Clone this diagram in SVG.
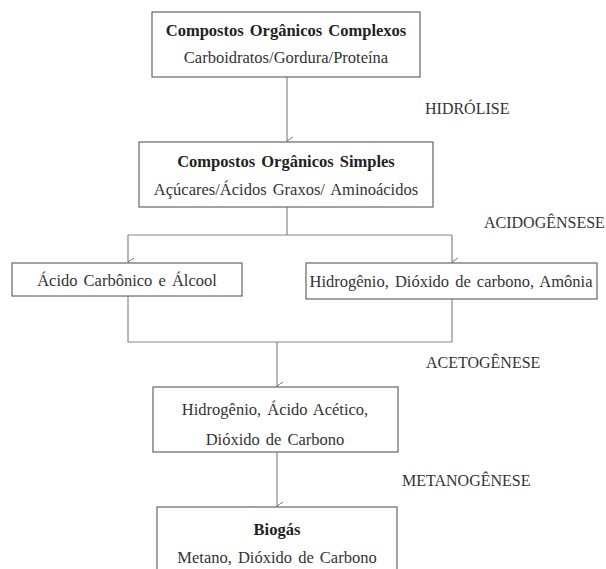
<svg xmlns="http://www.w3.org/2000/svg" width="606" height="569" viewBox="0 0 606 569">
  <defs>
    <marker id="arrow" markerWidth="10" markerHeight="10" refX="5" refY="8" orient="auto-start-reverse" markerUnits="userSpaceOnUse" viewBox="0 0 10 10">
      <path d="M1,2 L5,8 L9,2" fill="none" stroke="#777" stroke-width="1"/>
    </marker>
  </defs>
  <style>
    .box { fill: #fff; stroke: #666; stroke-width: 1.2; }
    .link { fill: none; stroke: #888; stroke-width: 1.2; }
    .title { font-family: "Liberation Serif", "Times New Roman", serif; font-size: 16.5px; font-weight: bold; fill: #222; text-anchor: middle; word-spacing: 2px; }
    .body { font-family: "Liberation Serif", "Times New Roman", serif; font-size: 16.5px; fill: #333; text-anchor: middle; word-spacing: 2px; }
    .stage { font-family: "Liberation Serif", "Times New Roman", serif; font-size: 16px; fill: #333; }
  </style>
  <rect width="606" height="569" fill="#fff"/>

  <g id="connectors">
    <path class="link" d="M287,77 V141" marker-end="url(#arrow)"/>
    <path class="link" d="M287,207 V235"/>
    <path class="link" d="M128,235 H452"/>
    <path class="link" d="M128,235 V262" marker-end="url(#arrow)"/>
    <path class="link" d="M452,235 V262" marker-end="url(#arrow)"/>
    <path class="link" d="M128,296 V342 H452 V299"/>
    <path class="link" d="M277,342 V386" marker-end="url(#arrow)"/>
    <path class="link" d="M277,452 V506" marker-end="url(#arrow)"/>
  </g>

  <g id="complexos">
    <rect class="box" x="152" y="12" width="268" height="65"/>
    <text class="title" x="286" y="36">Compostos Orgânicos Complexos</text>
    <text class="body" x="286" y="63">Carboidratos/Gordura/Proteína</text>
  </g>

  <g id="simples">
    <rect class="box" x="139" y="142" width="294" height="65"/>
    <text class="title" x="286" y="167">Compostos Orgânicos Simples</text>
    <text class="body" x="286" y="195">Açúcares/Ácidos Graxos/ Aminoácidos</text>
  </g>

  <g id="acido-alcool">
    <rect class="box" x="12" y="263" width="230" height="33"/>
    <text class="body" x="127" y="286">Ácido Carbônico e Álcool</text>
  </g>

  <g id="hidrogenio-amonia">
    <rect class="box" x="306" y="263" width="291" height="36"/>
    <text class="body" x="451" y="287">Hidrogênio, Dióxido de carbono, Amônia</text>
  </g>

  <g id="acetico">
    <rect class="box" x="153" y="387" width="245" height="65"/>
    <text class="body" x="275" y="415">Hidrogênio, Ácido Acético,</text>
    <text class="body" x="275" y="445">Dióxido de Carbono</text>
  </g>

  <g id="biogas">
    <rect class="box" x="157" y="507" width="240" height="70"/>
    <text class="title" x="277" y="535">Biogás</text>
    <text class="body" x="277" y="563">Metano, Dióxido de Carbono</text>
  </g>

  <g id="stages">
    <text class="stage" x="425" y="114">HIDRÓLISE</text>
    <text class="stage" x="484" y="228">ACIDOGÊNSESE</text>
    <text class="stage" x="426" y="368">ACETOGÊNESE</text>
    <text class="stage" x="402" y="486">METANOGÊNESE</text>
  </g>
</svg>
